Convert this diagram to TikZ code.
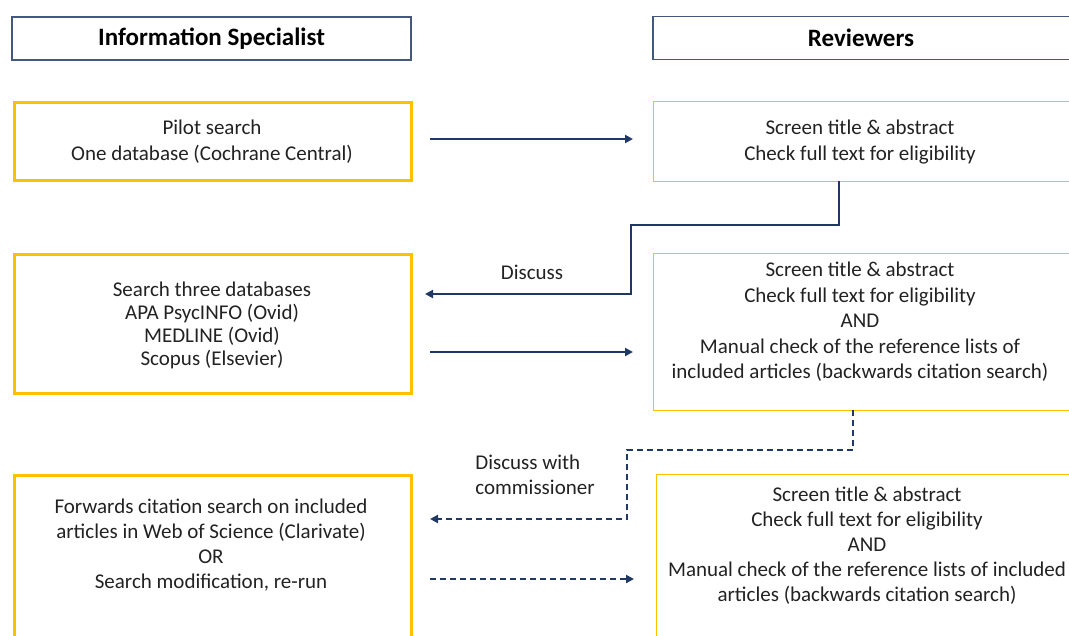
\documentclass[tikz,border=0pt]{standalone}
\usepackage{fontspec}
\setmainfont{Carlito}
\usetikzlibrary{arrows.meta}
\definecolor{hdr}{HTML}{44587E}
\definecolor{navy}{HTML}{203864}
\definecolor{gold}{HTML}{FFC000}
\definecolor{txt}{HTML}{222222}
\begin{document}
\begin{tikzpicture}[x=0.75pt,y=-0.75pt,
  hdrbox/.style={draw=hdr,line width=1pt,inner sep=0pt,outer sep=0pt,rectangle},
  lbox/.style={draw=gold,line width=2.25pt,inner sep=0pt,outer sep=0pt,rectangle},
  rbox/.style={draw=gold,line width=0.75pt,inner sep=0pt,outer sep=0pt,rectangle},
  hdrtext/.style={font=\fontsize{18.75}{22}\selectfont\bfseries,text=black},
  btext/.style={align=center,text=txt,inner sep=0pt},
  arr/.style={draw=navy,line width=1.5pt,-{Triangle[length=6pt,width=6pt]}},
  darr/.style={arr,dash pattern=on 4.5pt off 3pt}
]
\clip (0,0) rectangle (1069,635);
% headers
\node[hdrbox,minimum width=299.25pt,minimum height=32.25pt] (HL) at (211.5,38.5) {};
\node[hdrtext] (HLt) at (211.5,39) {Information Specialist};
\node[hdrbox,minimum width=316.5pt,minimum height=32.25pt] (HR) at (864,38) {};
\node[hdrtext] (HRt) at (861,38) {Reviewers};
% boxes
\node[lbox,minimum width=297.75pt,minimum height=58.5pt] (L1) at (212.5,141) {};
\node[rbox,minimum width=316.5pt,minimum height=60pt] (R1) at (864,141) {};
\node[lbox,minimum width=297.75pt,minimum height=104.25pt] (L2) at (212.5,323.5) {};
\node[rbox,minimum width=316.5pt,minimum height=117.75pt] (R2) at (864,331.5) {};
\node[lbox,minimum width=297.75pt,minimum height=138.75pt] (L3) at (212.5,567.5) {};
\node[rbox,minimum width=321.75pt,minimum height=139.5pt] (R3) at (870.5,567) {};
% texts
\node[btext,font=\fontsize{15.75}{19.5}\selectfont] (L1t) at (212,142) {Pilot search\\One database (Cochrane Central)};
\node[btext,font=\fontsize{15.75}{19.5}\selectfont] (R1t) at (860,142) {Screen title \& abstract\\Check full text for eligibility};
\node[btext,font=\fontsize{15.75}{17.25}\selectfont] (L2t) at (212,325.5) {Search three databases\\APA PsycINFO (Ovid)\\MEDLINE (Ovid)\\Scopus (Elsevier)};
\node[btext,font=\fontsize{15.75}{19.1}\selectfont] (R2t) at (860,322) {Screen title \& abstract\\Check full text for eligibility\\AND\\Manual check of the reference lists of\\included articles (backwards citation search)};
\node[btext,font=\fontsize{15.75}{18.75}\selectfont] (L3t) at (211,545.5) {Forwards citation search on included\\articles in Web of Science (Clarivate)\\OR\\Search modification, re-run};
\node[btext,font=\fontsize{15.75}{18.75}\selectfont] (R3t) at (867,545.5) {Screen title \& abstract\\Check full text for eligibility\\AND\\Manual check of the reference lists of included\\articles (backwards citation search)};
% labels
\node[btext,font=\fontsize{15.75}{18.75}\selectfont] (lab1) at (532,272) {Discuss};
\node[btext,align=left,font=\fontsize{15.75}{18.75}\selectfont] (lab2) at (535,474.5) {Discuss with\\commissioner};
% helper coordinates
\coordinate (y1) at (0,139);
\coordinate (y2) at (0,352);
\coordinate (y3) at (0,579);
\coordinate (k1) at (839,225);
\coordinate (k2) at (631,294);
\coordinate (k3) at (853,450);
\coordinate (k4) at (627,519);
% connectors
\draw[arr,shorten <=14.25pt,shorten >=15pt] (L1.east |- y1) -- (R1.west |- y1);
\draw[arr,shorten >=10.5pt] (R1.south -| k1) -- (k1) -| (k2) -- (L2.east |- k2);
\draw[arr,shorten <=14.25pt,shorten >=15pt] (L2.east |- y2) -- (R2.west |- y2);
\draw[darr,shorten >=14.25pt] (R2.south -| k3) -- (k3) -| (k4) -- (L3.east |- k4);
\draw[darr,shorten <=14.25pt,shorten >=16.5pt] (L3.east |- y3) -- (R3.west |- y3);
\end{tikzpicture}
\end{document}
